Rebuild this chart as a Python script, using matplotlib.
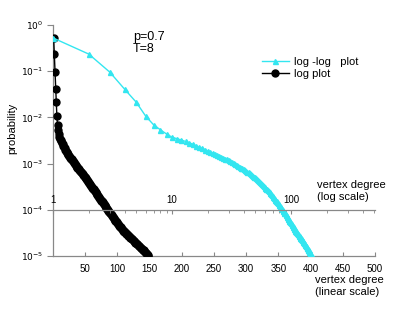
import matplotlib
matplotlib.use("Agg")
import matplotlib.pyplot as plt
from matplotlib.lines import Line2D
from matplotlib.ticker import FixedLocator, NullFormatter

plt.rcParams["font.family"] = ["Liberation Sans", "DejaVu Sans"]

# vertex degree k = 1..148 and log10 of its probability
log_prob = [
    -0.28, -0.63, -1.02, -1.39, -1.67, -1.97, -2.16, -2.27, -2.36, -2.43,
    -2.46, -2.49, -2.52, -2.55, -2.58, -2.62, -2.65, -2.67, -2.70, -2.73,
    -2.75, -2.77, -2.79, -2.81, -2.83, -2.85, -2.87, -2.89, -2.91, -2.93,
    -2.95, -2.97, -2.99, -3.01, -3.03, -3.05, -3.07, -3.09, -3.10, -3.12,
    -3.14, -3.16, -3.18, -3.19, -3.21, -3.23, -3.25, -3.27, -3.28, -3.30,
    -3.32, -3.34, -3.36, -3.38, -3.40, -3.42, -3.44, -3.46, -3.48, -3.50,
    -3.52, -3.54, -3.56, -3.58, -3.60, -3.62, -3.64, -3.66, -3.68, -3.70,
    -3.72, -3.74, -3.76, -3.78, -3.80, -3.82, -3.84, -3.86, -3.88, -3.90,
    -3.92, -3.94, -3.96, -3.98, -4.00, -4.02, -4.04, -4.06, -4.08, -4.10,
    -4.12, -4.14, -4.16, -4.18, -4.20, -4.22, -4.24, -4.25, -4.27, -4.29,
    -4.31, -4.33, -4.35, -4.37, -4.38, -4.40, -4.42, -4.43, -4.45, -4.46,
    -4.48, -4.49, -4.51, -4.52, -4.53, -4.55, -4.56, -4.57, -4.59, -4.60,
    -4.61, -4.63, -4.64, -4.66, -4.67, -4.68, -4.70, -4.71, -4.72, -4.74,
    -4.75, -4.76, -4.78, -4.79, -4.80, -4.82, -4.83, -4.84, -4.86, -4.87,
    -4.88, -4.90, -4.91, -4.93, -4.94, -4.96, -4.97, -4.99,
]
degree = list(range(1, len(log_prob) + 1))
prob = [10 ** v for v in log_prob]

lin_ticks = [50, 100, 150, 200, 250, 300, 350, 400, 450, 500]
log_ticks = [1, 10, 100]
y_ticks = [1, 1e-1, 1e-2, 1e-3, 1e-4, 1e-5]
y_labels = ["$10^{0}$", "$10^{-1}$", "$10^{-2}$", "$10^{-3}$", "$10^{-4}$", "$10^{-5}$"]

cyan = "#33e6f0"
gray = "#888888"

fig = plt.figure(figsize=(4.07, 3.19), dpi=100)
ax = fig.add_axes([53 / 407, 63 / 319, 322 / 407, 231 / 319])

# linear scale: log plot
ax.plot(degree, prob, "-o", color="black", ms=5, lw=1, zorder=3)
ax.set_yscale("log")
ax.set_ylim(1e-5, 1)
ax.set_xlim(0, 500)
ax.set_xticks(lin_ticks)
ax.set_yticks(y_ticks)
ax.set_yticklabels(y_labels)
ax.minorticks_off()
ax.tick_params(axis="x", direction="in", length=3, color=gray, labelsize=7, pad=6)
ax.tick_params(axis="y", direction="out", length=4, color=gray, labelsize=6.5, pad=3)
for s in ["top", "right"]:
    ax.spines[s].set_visible(False)
for s in ["left", "bottom"]:
    ax.spines[s].set_color(gray)
    ax.spines[s].set_linewidth(0.9)
fig.text(12 / 407, 1 - 128 / 319, "probability", fontsize=8, rotation=90,
         ha="center", va="center")

# log scale axis drawn across the plot at 1e-4
ax2 = ax.twiny()
ax2.set_xscale("log")
ax2.set_xlim(1, 10 ** (322 / 119))
ax2.plot(degree, prob, "-^", color=cyan, ms=3.6, lw=1, zorder=2)
ax2.spines["bottom"].set_position(("data", 1e-4))
ax2.spines["bottom"].set_color(gray)
ax2.spines["bottom"].set_linewidth(0.9)
for s in ["top", "left", "right"]:
    ax2.spines[s].set_visible(False)
ax2.xaxis.set_ticks_position("bottom")
ax2.xaxis.set_major_locator(FixedLocator(log_ticks))
ax2.set_xticklabels(["1", "10", "100"])
ax2.xaxis.set_minor_formatter(NullFormatter())
ax2.tick_params(axis="x", which="major", direction="out", length=3, color=gray,
                labelsize=7, pad=-14)
ax2.tick_params(axis="x", which="minor", direction="out", length=2, color=gray)

fig.text(133 / 407, 1 - 43 / 319, "p=0.7\nT=8", fontsize=9, va="center",
         linespacing=1.05)
fig.text(317 / 407, 1 - 191 / 319, "vertex degree\n(log scale)", fontsize=8,
         va="center", linespacing=1.15)
fig.text(315 / 407, 1 - 286 / 319, "vertex degree\n(linear scale)", fontsize=8,
         va="center", linespacing=1.15)

handles = [
    Line2D([], [], color=cyan, marker="^", ms=3.6, lw=1),
    Line2D([], [], color="black", marker="o", ms=5, lw=1),
]
fig.legend(handles, ["log -log   plot", "log plot"], loc="upper left",
           bbox_to_anchor=(252 / 407, 1 - 47 / 319), frameon=False, fontsize=8,
           handlelength=2.4, handletextpad=0.5, labelspacing=0.2)

fig.savefig("out.png", dpi=100)
